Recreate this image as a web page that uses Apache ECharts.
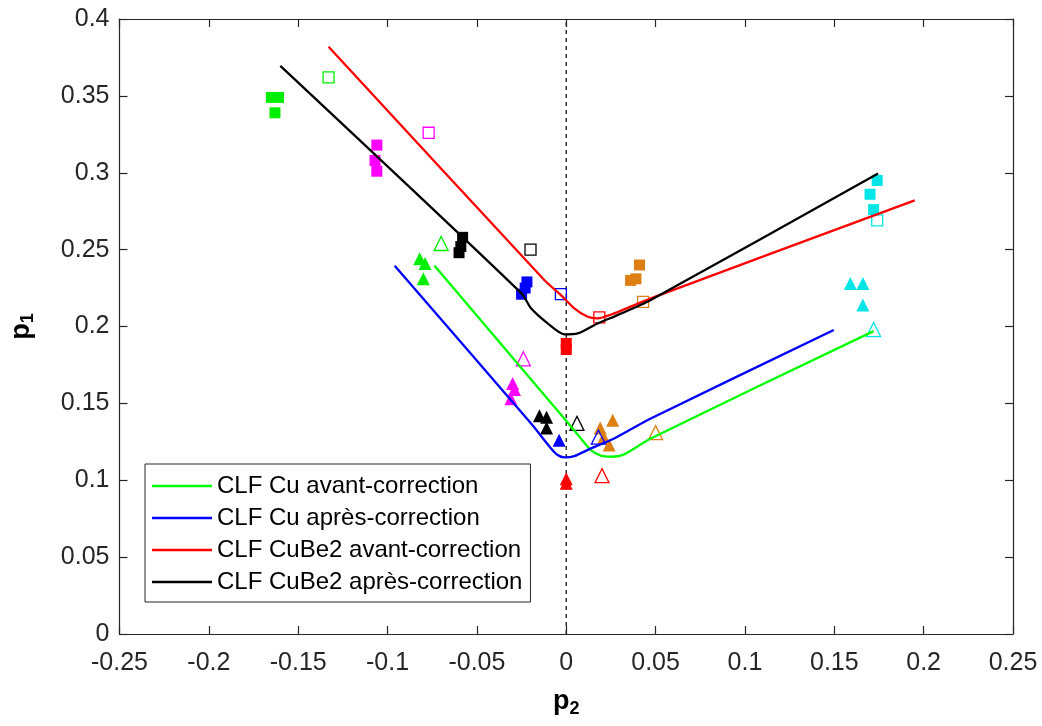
<!DOCTYPE html>
<html>
<head>
<meta charset="utf-8">
<script src="https://cdn.jsdelivr.net/npm/echarts@6/dist/echarts.min.js"></script>
<style>
html,body{margin:0;padding:0;background:#fff;}
#chart{width:1042px;height:726px;}
</style>
</head>
<body>
<div id="chart"></div>
<script>
// ---- Data ----
const seriesNames = ['CLF Cu avant-correction','CLF Cu après-correction','CLF CuBe2 avant-correction','CLF CuBe2 après-correction'];

// fitted curves [p2, p1]
const cuAvant = [[-0.0737,0.2395],[-0.0123,0.1554],[-0.0011,0.1402],[0.0082,0.1272],[0.0138,0.1196],[0.0194,0.1160],[0.0250,0.1153],[0.0324,0.1168],[0.0473,0.1272],[0.172,0.197]];
const cuApres = [[-0.096,0.2395],[-0.0198,0.1370],[-0.0085,0.1207],[-0.0048,0.1164],[-0.0011,0.1149],[0.0045,0.1157],[0.0138,0.1207],[0.0268,0.1272],[0.0473,0.1402],[0.1497,0.1977]];
const cube2Avant = [[-0.133,0.382],[-0.0123,0.2302],[-0.003,0.2204],[0.0045,0.2118],[0.012,0.2063],[0.0175,0.2053],[0.0268,0.2085],[0.0473,0.2183],[0.195,0.282]];
const cube2Apres = [[-0.160,0.3695],[-0.025,0.2215],[-0.0197,0.2118],[-0.0104,0.2020],[-0.0011,0.1949],[0.0064,0.1955],[0.0175,0.2020],[0.0287,0.2074],[0.0473,0.2172],[0.1745,0.2995]];

// reference line p2 = 0
const zeroLine = [[0,0],[0,0.4]];

// measured points: filled squares
const sqFillGreen   = [[-0.165,0.349],[-0.161,0.349],[-0.163,0.339]];
const sqFillMagenta = [[-0.106,0.318],[-0.107,0.308],[-0.106,0.301]];
const sqFillBlack   = [[-0.058,0.258],[-0.059,0.252],[-0.060,0.248]];
const sqFillBlue    = [[-0.022,0.229],[-0.023,0.225],[-0.025,0.221]];
const sqFillRed     = [[0.0,0.189],[0.0,0.185]];
const sqFillOrange  = [[0.041,0.240],[0.039,0.231],[0.036,0.230]];
const sqFillCyan    = [[0.174,0.295],[0.170,0.286],[0.172,0.276]];
// open squares
const sqOpenGreen   = [[-0.133,0.362]];
const sqOpenMagenta = [[-0.077,0.326]];
const sqOpenBlack   = [[-0.020,0.250]];
const sqOpenBlue    = [[-0.003,0.221]];
const sqOpenRed     = [[0.0185,0.206]];
const sqOpenOrange  = [[0.043,0.216]];
const sqOpenCyan    = [[0.174,0.269]];
// filled triangles
const trFillGreen   = [[-0.082,0.244],[-0.079,0.241],[-0.080,0.231]];
const trFillMagenta = [[-0.030,0.163],[-0.029,0.159],[-0.031,0.153]];
const trFillBlack   = [[-0.015,0.142],[-0.011,0.141],[-0.011,0.134]];
const trFillBlue    = [[-0.004,0.126]];
const trFillRed     = [[0.0,0.101],[0.0,0.098]];
const trFillOrange  = [[0.019,0.134],[0.026,0.139],[0.024,0.123],[0.021,0.128]];
const trFillCyan    = [[0.159,0.228],[0.166,0.228],[0.166,0.214]];
// open triangles
const trOpenGreen   = [[-0.070,0.254]];
const trOpenMagenta = [[-0.024,0.179]];
const trOpenBlack   = [[0.006,0.137]];
const trOpenBlue    = [[0.018,0.128]];
const trOpenRed     = [[0.020,0.103]];
const trOpenOrange  = [[0.050,0.131]];
const trOpenCyan    = [[0.172,0.198]];

// ---- Styling ----
const C = {green:'#00ee00', magenta:'#ff00ff', black:'#000000', blue:'#0000ff', red:'#ff0000', orange:'#dd7f12', cyan:'#00e5e5'};
const FONT = 'Liberation Sans, Arial, Helvetica, sans-serif';
const AX = '#262626';

function filled(data, shape, color, size){
  return {type:'scatter', data, symbol:shape, symbolSize:size, z:2,
    itemStyle:{color:color, opacity:1}, emphasis:{disabled:true}, silent:true};
}
function open(data, shape, color, size){
  return {type:'scatter', data, symbol:shape, symbolSize:size, z:2,
    itemStyle:{color:'rgba(255,255,255,0)', borderColor:color, borderWidth:1.3, opacity:1}, emphasis:{disabled:true}, silent:true};
}
function curve(name, data, color){
  return {type:'line', name, data, symbol:'none', smooth:0.25, z:4,
    lineStyle:{color, width:2.3}, itemStyle:{color}, emphasis:{disabled:true}, silent:true};
}

const SQ = 11, TR = 13, SQO = 11, TRO = 14;
const series = [
  {type:'line', data:zeroLine, symbol:'none', z:1, silent:true,
   lineStyle:{color:'#222', width:1.4, type:[4,4]}},
  filled(sqFillGreen,'rect',C.green,SQ), filled(sqFillMagenta,'rect',C.magenta,SQ),
  filled(sqFillBlack,'rect',C.black,SQ), filled(sqFillBlue,'rect',C.blue,SQ),
  filled(sqFillRed,'rect',C.red,SQ), filled(sqFillOrange,'rect',C.orange,SQ),
  filled(sqFillCyan,'rect',C.cyan,SQ),
  open(sqOpenGreen,'rect',C.green,SQO), open(sqOpenMagenta,'rect',C.magenta,SQO),
  open(sqOpenBlack,'rect',C.black,SQO), open(sqOpenBlue,'rect',C.blue,SQO),
  open(sqOpenRed,'rect',C.red,SQO), open(sqOpenOrange,'rect',C.orange,SQO),
  open(sqOpenCyan,'rect',C.cyan,SQO),
  filled(trFillGreen,'triangle',C.green,TR), filled(trFillMagenta,'triangle',C.magenta,TR),
  filled(trFillBlack,'triangle',C.black,TR), filled(trFillBlue,'triangle',C.blue,TR),
  filled(trFillRed,'triangle',C.red,TR), filled(trFillOrange,'triangle',C.orange,TR),
  filled(trFillCyan,'triangle',C.cyan,TR),
  open(trOpenGreen,'triangle',C.green,TRO), open(trOpenMagenta,'triangle',C.magenta,TRO),
  open(trOpenBlack,'triangle',C.black,TRO), open(trOpenBlue,'triangle',C.blue,TRO),
  open(trOpenRed,'triangle',C.red,TRO), open(trOpenOrange,'triangle',C.orange,TRO),
  open(trOpenCyan,'triangle',C.cyan,TRO),
  curve(seriesNames[0], cuAvant, '#00ff00'),
  curve(seriesNames[1], cuApres, '#0000ff'),
  curve(seriesNames[2], cube2Avant, '#ff0000'),
  curve(seriesNames[3], cube2Apres, '#000000')
];

const xTickFmt = v => (Math.round(v*100)/100).toString();
const yTickFmt = v => (Math.round(v*100)/100).toString();

const chart = echarts.init(document.getElementById('chart'), null, {renderer:'canvas'});
chart.setOption({
  animation:false,
  backgroundColor:'#ffffff',
  textStyle:{fontFamily:FONT},
  grid:{left:118, right:29, top:19, bottom:92, containLabel:false},
  legend:{
    data:seriesNames, orient:'vertical', left:145, top:464,
    icon:'rect', itemWidth:60, itemHeight:2.3, itemGap:8,
    padding:[10,8,8,7],
    borderColor:AX, borderWidth:1, backgroundColor:'#ffffff',
    textStyle:{fontSize:24, color:'#000', fontFamily:FONT, lineHeight:24},
    selectedMode:false
  },
  xAxis:[{
    type:'value', min:-0.25, max:0.25, interval:0.05,
    name:'{p|p}{s|2}', nameLocation:'middle', nameGap:52,
    nameTextStyle:{rich:{p:{fontSize:27,fontWeight:'bold',color:'#000',fontFamily:FONT},
                         s:{fontSize:18,fontWeight:'bold',color:'#000',fontFamily:FONT,padding:[14,0,0,0]}}},
    axisLine:{show:true, onZero:false, lineStyle:{color:AX,width:1.2}},
    axisTick:{show:true, inside:true, length:8, lineStyle:{color:AX,width:1.2}},
    axisLabel:{show:true, margin:17, fontSize:25, color:AX, fontFamily:FONT, formatter:xTickFmt},
    splitLine:{show:false}
  },{
    type:'value', min:-0.25, max:0.25, interval:0.05, position:'top',
    axisLine:{show:true, onZero:false, lineStyle:{color:AX,width:1.2}},
    axisTick:{show:true, inside:true, length:8, lineStyle:{color:AX,width:1.2}},
    axisLabel:{show:false}, splitLine:{show:false}
  }],
  yAxis:[{
    type:'value', min:0, max:0.4, interval:0.05,
    name:'{p|p}{s|1}', nameLocation:'middle', nameGap:82, nameRotate:90,
    nameTextStyle:{rich:{p:{fontSize:27,fontWeight:'bold',color:'#000',fontFamily:FONT},
                         s:{fontSize:18,fontWeight:'bold',color:'#000',fontFamily:FONT,padding:[14,0,0,0]}}},
    axisLine:{show:true, onZero:false, lineStyle:{color:AX,width:1.2}},
    axisTick:{show:true, inside:true, length:8, lineStyle:{color:AX,width:1.2}},
    axisLabel:{show:true, margin:10, fontSize:25, color:AX, fontFamily:FONT, formatter:yTickFmt},
    splitLine:{show:false}
  },{
    type:'value', min:0, max:0.4, interval:0.05, position:'right',
    axisLine:{show:true, onZero:false, lineStyle:{color:AX,width:1.2}},
    axisTick:{show:true, inside:true, length:8, lineStyle:{color:AX,width:1.2}},
    axisLabel:{show:false}, splitLine:{show:false}
  }],
  series: series
});
</script>
</body>
</html>
